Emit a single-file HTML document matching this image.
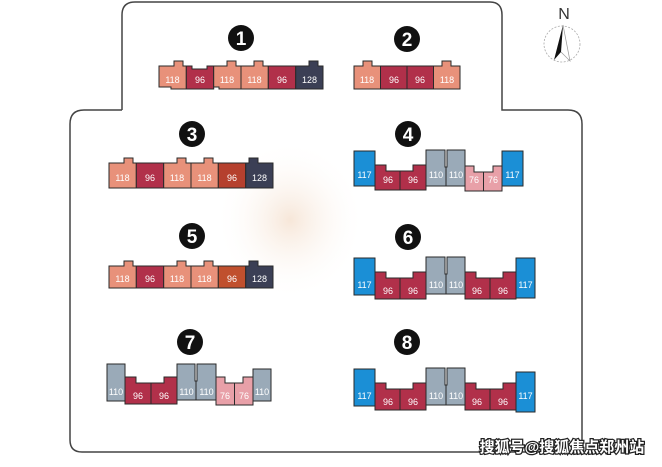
<!DOCTYPE html>
<html><head><meta charset="utf-8"><style>
html,body{margin:0;padding:0;background:#fff;}
svg{display:block;}
text{font-family:"Liberation Sans","DejaVu Sans",sans-serif;}
.u{stroke:#2a2a2a;stroke-width:1;}
.l{fill:#fff;font-size:9px;text-anchor:middle;}
.n{fill:#fff;font-size:19px;font-weight:bold;text-anchor:middle;}
</style></head><body>
<svg width="662" height="467" viewBox="0 0 662 467" xmlns="http://www.w3.org/2000/svg">
<defs>
<radialGradient id="sm" cx="50%" cy="50%" r="50%"><stop offset="0" stop-color="#f3dcc8" stop-opacity="0.7"/><stop offset="1" stop-color="#fff" stop-opacity="0"/></radialGradient>
</defs>
<ellipse cx="290" cy="220" rx="75" ry="80" fill="url(#sm)"/>
<path d="M122,110 V15 Q122,2 135,2 H490 Q502,2 502,15 V110 H568 Q582,110 582,124 V440 Q582,452 570,452 H82 Q70,452 70,440 V124 Q70,110 84,110 H122" fill="none" stroke="#444" stroke-width="1.5"/>
<!-- compass -->
<text x="564" y="19" font-size="16" fill="#333" text-anchor="middle">N</text>
<circle cx="562" cy="44" r="18" fill="none" stroke="#aaa" stroke-width="0.8" stroke-dasharray="2,1.5"/>
<polygon points="563,25 554,60 561,52" fill="#111"/>
<polyline points="563,25 570,61 561,52" fill="none" stroke="#999" stroke-width="0.7"/>

<!-- circles -->
<g>
<circle cx="241" cy="38" r="13" fill="#111"/><text class="n" x="241" y="45">1</text>
<circle cx="407" cy="39" r="13" fill="#111"/><text class="n" x="407" y="46">2</text>
<circle cx="192" cy="134" r="13" fill="#111"/><text class="n" x="192" y="141">3</text>
<circle cx="408" cy="134" r="13" fill="#111"/><text class="n" x="408" y="141">4</text>
<circle cx="192" cy="236" r="13" fill="#111"/><text class="n" x="192" y="243">5</text>
<circle cx="408" cy="237" r="13" fill="#111"/><text class="n" x="408" y="244">6</text>
<circle cx="190" cy="342" r="13" fill="#111"/><text class="n" x="190" y="349">7</text>
<circle cx="407" cy="342" r="13" fill="#111"/><text class="n" x="407" y="349">8</text>
</g>

<!-- 6-unit building template via symbol-like groups -->
<g id="b1" transform="translate(159,61)">
 <path class="u" fill="#e8917a" d="M0,5 H15 V0 H24 V5 H27.3 V28 H12 V26 H0 Z"/>
 <path class="u" fill="#b1304a" d="M27.3,5 H33 V8 H48 V5 H54.7 V28 H27.3 Z"/>
 <path class="u" fill="#e8917a" d="M54.7,5 H68 V0 H77 V5 H82 V28 H60 V26 H54.7 Z"/>
 <path class="u" fill="#e8917a" d="M82,5 H95 V0 H104 V5 H109.3 V28 H82 Z"/>
 <path class="u" fill="#b1304a" d="M109.3,5 H136.7 V28 H109.3 Z"/>
 <path class="u" fill="#3b3f55" d="M136.7,5 H150 V0 H159 V5 H164 V28 H136.7 Z"/>
 <text class="l" x="13.5" y="22">118</text><text class="l" x="41" y="22">96</text><text class="l" x="68" y="22">118</text><text class="l" x="95.5" y="22">118</text><text class="l" x="123" y="22">96</text><text class="l" x="150.5" y="22">128</text>
</g>
<g transform="translate(354,61)">
 <path class="u" fill="#e8917a" d="M0,5 H9 V0 H18 V5 H26.5 V28 H0 Z"/>
 <path class="u" fill="#b1304a" d="M26.5,5 H53 V28 H26.5 Z"/>
 <path class="u" fill="#b1304a" d="M53,5 H79.5 V28 H53 Z"/>
 <path class="u" fill="#e8917a" d="M79.5,5 H88 V0 H97 V5 H106 V28 H79.5 Z"/>
 <text class="l" x="13" y="22">118</text><text class="l" x="40" y="22">96</text><text class="l" x="66" y="22">96</text><text class="l" x="93" y="22">118</text>
</g>
<g transform="translate(109,158)">
 <path class="u" fill="#e8917a" d="M0,5 H15 V0 H24 V5 H27.3 V30 H0 Z"/>
 <path class="u" fill="#b1304a" d="M27.3,5 H54.7 V30 H27.3 Z"/>
 <path class="u" fill="#e8917a" d="M54.7,5 H68 V0 H77 V5 H82 V30 H54.7 Z"/>
 <path class="u" fill="#e8917a" d="M82,5 H95 V0 H104 V5 H109.3 V30 H82 Z"/>
 <path class="u" fill="#b5402e" d="M109.3,5 H136.7 V30 H109.3 Z"/>
 <path class="u" fill="#3b3f55" d="M136.7,5 H140 V0 H149 V5 H164 V30 H136.7 Z"/>
 <text class="l" x="13.5" y="23">118</text><text class="l" x="41" y="23">96</text><text class="l" x="68" y="23">118</text><text class="l" x="95.5" y="23">118</text><text class="l" x="123" y="23">96</text><text class="l" x="150.5" y="23">128</text>
</g>
<g transform="translate(109,261)">
 <path class="u" fill="#e8917a" d="M0,5 H15 V0 H24 V5 H27.3 V27 H0 Z"/>
 <path class="u" fill="#b1304a" d="M27.3,5 H54.7 V27 H27.3 Z"/>
 <path class="u" fill="#e8917a" d="M54.7,5 H68 V0 H77 V5 H82 V27 H54.7 Z"/>
 <path class="u" fill="#e8917a" d="M82,5 H95 V0 H104 V5 H109.3 V27 H82 Z"/>
 <path class="u" fill="#c0502e" d="M109.3,5 H136.7 V27 H109.3 Z"/>
 <path class="u" fill="#3b3f55" d="M136.7,5 H140 V0 H149 V5 H164 V27 H136.7 Z"/>
 <text class="l" x="13.5" y="21">118</text><text class="l" x="41" y="21">96</text><text class="l" x="68" y="21">118</text><text class="l" x="95.5" y="21">118</text><text class="l" x="123" y="21">96</text><text class="l" x="150.5" y="21">128</text>
</g>

<!-- building 4 -->
<g transform="translate(0,-218)">
 <rect class="u" fill="#1b8fd6" x="354" y="369" width="21" height="35"/>
 <path class="u" fill="#b1304a" d="M375,383 H386 V389 H413 V383 H426 V408 H375 Z"/><line class="u" x1="400" y1="389" x2="400" y2="408"/>
 <path class="u" fill="#9aaab8" d="M426,368 H445 V385 H447 V368 H465 V404 H426 Z"/><line class="u" x1="446" y1="385" x2="446" y2="404"/>
 <path class="u" fill="#e8a0a8" d="M465,384 H474 V390 H493 V384 H502 V409 H465 Z"/><line class="u" x1="483.5" y1="390" x2="483.5" y2="409"/>
 <rect class="u" fill="#1b8fd6" x="502" y="369" width="21" height="35"/>
 <text class="l" x="364.5" y="396">117</text><text class="l" x="388" y="401">96</text><text class="l" x="413" y="401">96</text><text class="l" x="436" y="396">110</text><text class="l" x="456" y="396">110</text><text class="l" x="474" y="401">76</text><text class="l" x="493" y="401">76</text><text class="l" x="512.5" y="396">117</text>
</g>
<!-- building 6 and 8 -->
<g id="b8">
 <rect class="u" fill="#1b8fd6" x="354" y="369" width="21" height="37"/>
 <path class="u" fill="#b1304a" d="M375,383 H386 V389 H413 V383 H426 V410 H375 Z"/><line class="u" x1="400" y1="389" x2="400" y2="410"/>
 <path class="u" fill="#9aaab8" d="M426,368 H445 V385 H447 V368 H465 V405 H426 Z"/><line class="u" x1="446" y1="385" x2="446" y2="405"/>
 <path class="u" fill="#b1304a" d="M465,383 H476 V389 H503 V383 H516 V410 H465 Z"/><line class="u" x1="490" y1="389" x2="490" y2="410"/>
 <rect class="u" fill="#1b8fd6" x="516" y="372" width="19" height="40"/>
 <text class="l" x="364.5" y="399">117</text><text class="l" x="388" y="405">96</text><text class="l" x="413" y="405">96</text><text class="l" x="436" y="399">110</text><text class="l" x="456" y="399">110</text><text class="l" x="477" y="405">96</text><text class="l" x="503" y="405">96</text><text class="l" x="525.5" y="399">117</text>
</g>
<g transform="translate(0,-111)">
 <rect class="u" fill="#1b8fd6" x="354" y="369" width="21" height="37"/>
 <path class="u" fill="#b1304a" d="M375,383 H386 V389 H413 V383 H426 V410 H375 Z"/><line class="u" x1="400" y1="389" x2="400" y2="410"/>
 <path class="u" fill="#9aaab8" d="M426,368 H445 V385 H447 V368 H465 V405 H426 Z"/><line class="u" x1="446" y1="385" x2="446" y2="405"/>
 <path class="u" fill="#b1304a" d="M465,383 H476 V389 H503 V383 H516 V410 H465 Z"/><line class="u" x1="490" y1="389" x2="490" y2="410"/>
 <rect class="u" fill="#1b8fd6" x="516" y="369" width="19" height="40"/>
 <text class="l" x="364.5" y="399">117</text><text class="l" x="388" y="405">96</text><text class="l" x="413" y="405">96</text><text class="l" x="436" y="399">110</text><text class="l" x="456" y="399">110</text><text class="l" x="477" y="405">96</text><text class="l" x="503" y="405">96</text><text class="l" x="525.5" y="399">117</text>
</g>
<!-- building 7 -->
<g>
 <path class="u" fill="#9aaab8" d="M107,364 H125 V401 H107 Z"/>
 <path class="u" fill="#b1304a" d="M125,377 H136 V383 H164 V377 H177 V404 H125 Z"/><line class="u" x1="151" y1="383" x2="151" y2="404"/>
 <path class="u" fill="#9aaab8" d="M177,364 H195 V381 H197 V364 H216 V400 H177 Z"/><line class="u" x1="196" y1="381" x2="196" y2="400"/>
 <path class="u" fill="#e8a0a8" d="M216,377 H225 V383 H243 V377 H253 V405 H216 Z"/><line class="u" x1="234.5" y1="383" x2="234.5" y2="405"/>
 <path class="u" fill="#9aaab8" d="M253,369 H271 V401 H253 Z"/>
 <text class="l" x="116" y="395">110</text><text class="l" x="138" y="399">96</text><text class="l" x="164" y="399">96</text><text class="l" x="186.5" y="395">110</text><text class="l" x="206.5" y="395">110</text><text class="l" x="225" y="399">76</text><text class="l" x="244" y="399">76</text><text class="l" x="262" y="395">110</text>
</g>
<text x="562" y="452" font-size="15" font-weight="bold" text-anchor="middle" fill="#fff" stroke="#222" stroke-width="2.5" paint-order="stroke" style="font-family:'Liberation Sans','Noto Sans CJK SC',sans-serif">搜狐号@搜狐焦点郑州站</text>
</svg>
</body></html>
